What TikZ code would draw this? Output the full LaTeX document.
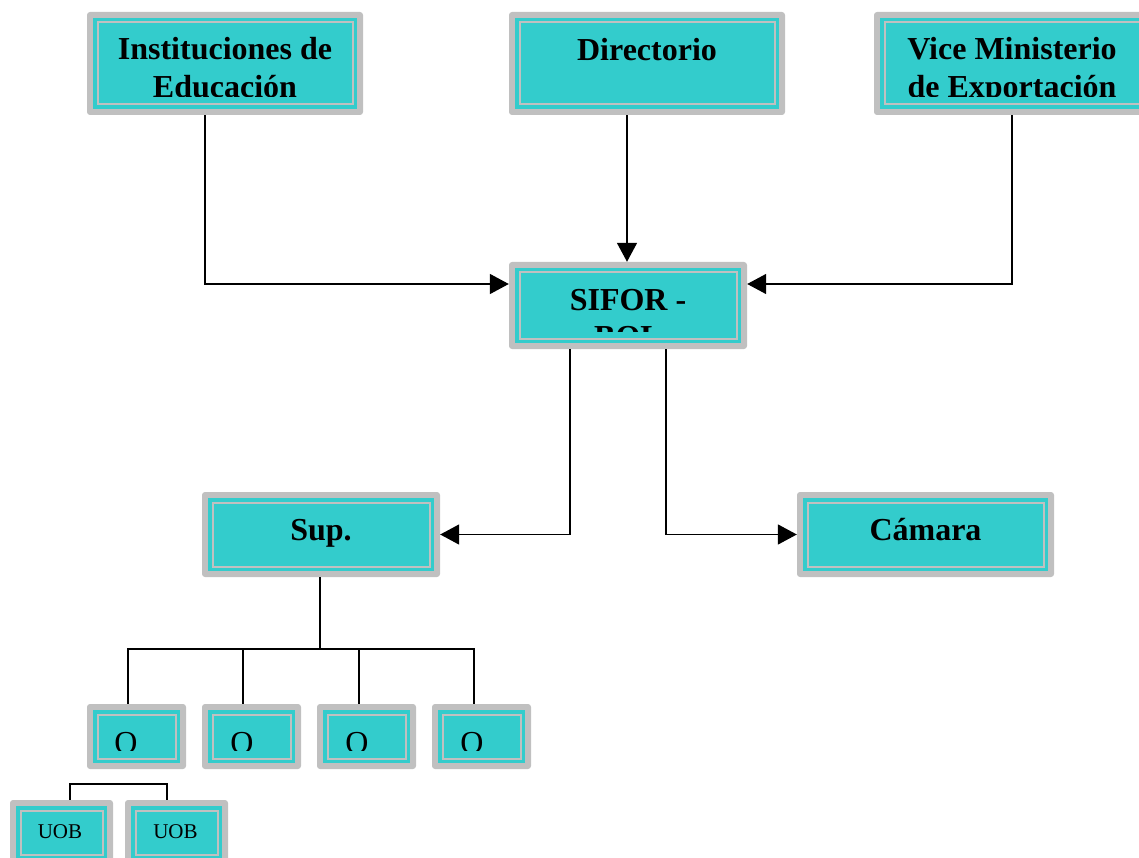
\documentclass[tikz,border=0pt]{standalone}
\usepackage{fontspec}
\setmainfont{Liberation Serif}
\usetikzlibrary{arrows.meta,calc,fit}
\definecolor{boxgray}{HTML}{C0C0C0}
\definecolor{boxcyan}{HTML}{33CCCC}
\newcommand{\orgbox}[5]{%
  \fill[boxgray, rounded corners=3pt] (#2,#3) rectangle (#4,#5);
  \fill[boxcyan] (#2+6,#3+6) rectangle (#4-6,#5-6);
  \draw[boxgray, line width=2pt] (#2+10.5,#3+10.5) rectangle (#4-10.5,#5-10.5);
  \node[fit={(#2,#3) (#4,#5)}, inner sep=0pt] (#1) {};
}
\tikzset{
  btxt/.style={font=\fontsize{32}{38}\selectfont\bfseries, inner sep=0pt, anchor=base},
  rtxt/.style={font=\fontsize{32}{38}\selectfont, inner sep=0pt, anchor=base},
  stxt/.style={font=\fontsize{21}{25}\selectfont, inner sep=0pt, anchor=base},
  conn/.style={draw=black, line width=1.6pt},
  arr/.style={conn, -{Triangle[length=19pt,width=20pt]}}
}
\begin{document}
\begin{tikzpicture}[x=1pt,y=-1pt]
\useasboundingbox (0,0) rectangle (1139,858);
\clip (0,0) rectangle (1139,858);
\fill[white] (0,0) rectangle (1139,858);
% boxes
\orgbox{inst}{87}{12}{363}{115}
\orgbox{dir}{509}{12}{785}{115}
\orgbox{vice}{874}{12}{1150}{115}
\orgbox{sifor}{509}{262}{747}{349}
\orgbox{sup}{202}{492}{440}{577}
\orgbox{cam}{797}{492}{1054}{577}
\orgbox{o1}{87}{704}{186}{769}
\orgbox{o2}{202}{704}{301}{769}
\orgbox{o3}{317}{704}{416}{769}
\orgbox{o4}{432}{704}{531}{769}
\orgbox{u1}{10}{800}{113}{865}
\orgbox{u2}{125}{800}{228}{865}
% texts
\begin{scope}
  \clip (87,12) rectangle (363,97);
  \node[btxt] (instA) at (225,60) {Instituciones de};
  \node[btxt] (instB) at (225,97.7) {Educación};
\end{scope}
\node[btxt] (dirA) at (647,61) {Directorio};
\begin{scope}
  \clip (874,12) rectangle (1150,97);
  \node[btxt] (viceA) at (1012,60) {Vice Ministerio};
  \node[btxt] (viceB) at (1012,97.7) {de Exportación};
\end{scope}
\begin{scope}
  \clip (509,262) rectangle (747,331);
  \node[btxt] (siforA) at (628,310) {SIFOR -};
  \node[btxt] (siforB) at (628,347.7) {BOL};
\end{scope}
\node[btxt] (supA) at (321,540) {Sup.};
\node[btxt] (camA) at (925.5,540) {Cámara};
\begin{scope}
  \clip (87,704) rectangle (531,750);
  \node[rtxt] (o1t) at (126,753) {O};
  \node[rtxt] (o2t) at (242,753) {O};
  \node[rtxt] (o3t) at (357,753) {O};
  \node[rtxt] (o4t) at (472,753) {O};
\end{scope}
\node[stxt] (u1t) at (60,838) {UOB};
\node[stxt] (u2t) at (175.5,838) {UOB};
% connectors
\draw[arr] ($(inst.south)+(-20,0)$) |- ($(sifor.west)+(0,-21.5)$);
\draw[arr] ($(dir.south)+(-20,0)$) -- ($(sifor.north)+(-1,0)$);
\draw[arr] (vice.south) |- ($(sifor.east)+(0,-21.5)$);
\draw[arr] ($(sifor.south)+(-58,0)$) |- (sup.east);
\draw[arr] ($(sifor.south)+(38,0)$) |- (cam.west);
\draw[conn] ($(sup.south)+(-1,0)$) -- ($(sup.south)+(-1,72)$);
\draw[conn] ($(o1.north)+(-8.5,0)$) |- ($(sup.south)+(-1,72)$) -| ($(o4.north)+(-7.5,0)$);
\draw[conn] ($(o2.north)+(-8.5,0)$) -- ++(0,-55);
\draw[conn] ($(o3.north)+(-7.5,0)$) -- ++(0,-55);
\draw[conn] ($(u1.north)+(8.5,0)$) -- ++(0,-16) -| ($(u2.north)+(-9.5,0)$);
\end{tikzpicture}
\end{document}
